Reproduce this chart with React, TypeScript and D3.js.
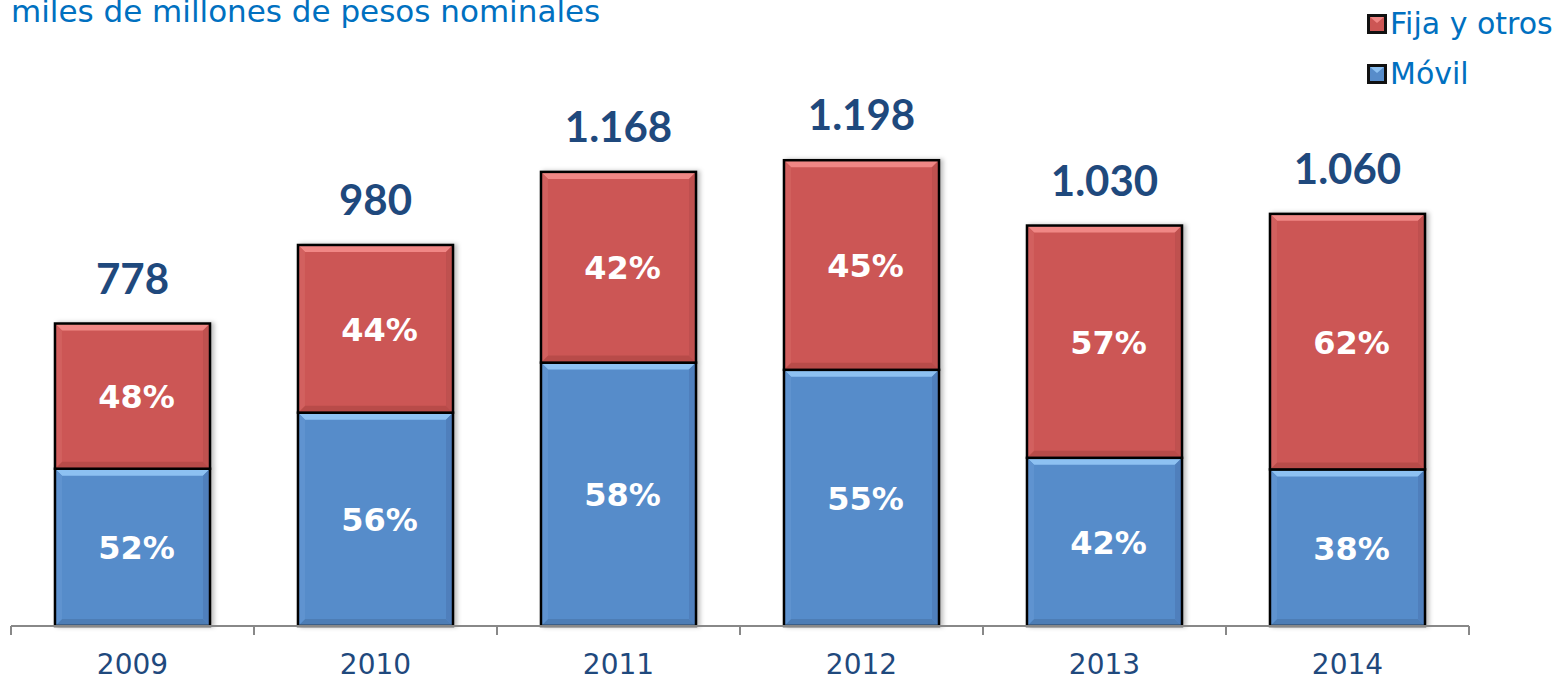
import React from "react";
import * as d3 from "d3";

const years = ["2009", "2010", "2011", "2012", "2013", "2014"];
const totals = [778, 980, 1168, 1198, 1030, 1060];
const totalLabels = ["778", "980", "1.168", "1.198", "1.030", "1.060"];
const movilPct = [52, 56, 58, 55, 42, 38];
const fijaPct = [48, 44, 42, 45, 57, 62];
const seriesNames = ["Fija y otros", "Móvil"];

const W = 1562;
const H = 677;
const baseY = 626;
const pxPerUnit = 0.3888;

const RED = { main: "#CC5654", top: "#F08785", bottom: "#B84C4A", left: "#D2605E", right: "#BF5150" };
const BLUE = { main: "#578CCA", top: "#8DC1F2", bottom: "#4D7DB5", left: "#5E93D0", right: "#507FBC" };

type Pal = typeof RED;

function BevelRect({ x, y, w, h, pal }: { x: number; y: number; w: number; h: number; pal: Pal }) {
  const b = 7;
  const x1 = x + w;
  const y1 = y + h;
  const pts = (arr: number[][]) => arr.map((p) => p.join(",")).join(" ");
  return (
    <g>
      <rect x={x} y={y} width={w} height={h} fill={pal.main} />
      <polygon points={pts([[x, y], [x1, y], [x1 - b, y + b], [x + b, y + b]])} fill={pal.top} />
      <polygon points={pts([[x, y1], [x1, y1], [x1 - b, y1 - b], [x + b, y1 - b]])} fill={pal.bottom} />
      <polygon points={pts([[x, y], [x + b, y + b], [x + b, y1 - b], [x, y1]])} fill={pal.left} />
      <polygon points={pts([[x1, y], [x1 - b, y + b], [x1 - b, y1 - b], [x1, y1]])} fill={pal.right} />
      <rect x={x} y={y} width={w} height={h} fill="none" stroke="#000" strokeWidth={2.5} />
    </g>
  );
}

export default function App() {
  const x = d3.scaleBand<string>().domain(years).range([11, 1469]).paddingInner(0.362).paddingOuter(0.181);
  const yMax = 1400;
  const y = d3.scaleLinear().domain([0, yMax]).range([baseY, baseY - yMax * pxPerUnit]);
  const step = x.step();
  const tickXs = d3.range(years.length + 1).map((i) => 11 + i * step);

  return (
    <svg width={W} height={H} style={{ position: "absolute", left: 0, top: 0 }}>
      <defs>
        <filter id="sh" x="-10%" y="-10%" width="130%" height="130%">
          <feDropShadow dx="3" dy="0" stdDeviation="2" floodColor="#000" floodOpacity="0.25" />
        </filter>
      </defs>
      <text x={11} y={22} fontFamily="DejaVu Sans" fontSize={31} fill="#0070C0">
        miles de millones de pesos nominales
      </text>

      {/* legend */}
      {seriesNames.map((name, i) => {
        const pal = i === 0 ? RED : BLUE;
        const ly = 14 + i * 50;
        return (
          <g key={name}>
            <rect x={1367} y={ly} width={20} height={20} fill="#111" />
            <rect x={1370} y={ly + 3} width={14} height={14} fill={pal.main} />
            <polygon points={`${1370},${ly + 3} ${1384},${ly + 3} ${1377},${ly + 9}`} fill={pal.top} />
            <text x={1390} y={ly + 20} fontFamily="DejaVu Sans" fontSize={30} fill="#0070C0">
              {name}
            </text>
          </g>
        );
      })}

      {/* bars */}
      {years.map((yr, i) => {
        const bx = x(yr)!;
        const bw = x.bandwidth();
        const mov = (totals[i] * movilPct[i]) / 100;
        const yTop = y(totals[i]);
        const ySplit = y(mov);
        const cx = bx + bw / 2;
        return (
          <g key={yr}>
            <g filter="url(#sh)">
              <BevelRect x={bx} y={ySplit} w={bw} h={baseY - ySplit} pal={BLUE} />
              <BevelRect x={bx} y={yTop} w={bw} h={ySplit - yTop} pal={RED} />
            </g>
            <text x={cx + 4} y={(ySplit + baseY) / 2 + 12} textAnchor="middle" fontFamily="DejaVu Sans" fontWeight="bold" fontSize={32} fill="#fff">
              {movilPct[i]}%
            </text>
            <text x={cx + 4} y={(yTop + ySplit) / 2 + 12} textAnchor="middle" fontFamily="DejaVu Sans" fontWeight="bold" fontSize={32} fill="#fff">
              {fijaPct[i]}%
            </text>
            <text x={cx} y={yTop - 30} textAnchor="middle" fontFamily="Lato" fontWeight="bold" fontSize={42} fill="#1F497D">
              {totalLabels[i]}
            </text>
            <text x={cx} y={674} textAnchor="middle" fontFamily="DejaVu Sans" fontSize={28} fill="#1F497D">
              {yr}
            </text>
          </g>
        );
      })}

      {/* axis */}
      <line x1={11} x2={1469} y1={baseY} y2={baseY} stroke="#888" strokeWidth={2} />
      {tickXs.map((tx, i) => (
        <line key={i} x1={tx} x2={tx} y1={baseY} y2={baseY + 9} stroke="#888" strokeWidth={2} />
      ))}
    </svg>
  );
}
